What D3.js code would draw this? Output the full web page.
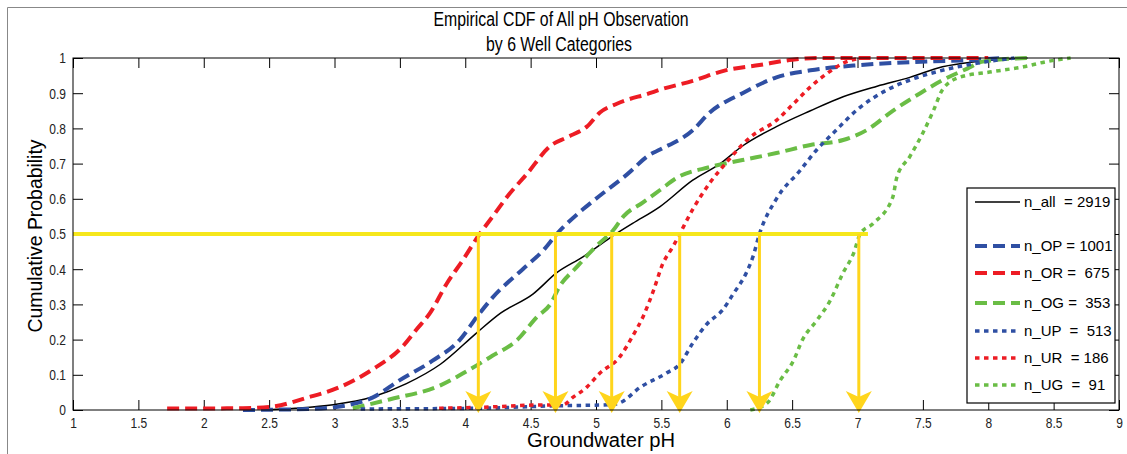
<!DOCTYPE html>
<html>
<head>
<meta charset="utf-8">
<script src="https://cdn.jsdelivr.net/npm/d3@7"></script>
<style>
  body { margin: 0; background: #fff; }
  text { font-family: "Liberation Sans", Arial, sans-serif; }
</style>
</head>
<body>
<div id="chart"></div>
<script>
// ---- data (pH, cumulative probability) ----
var nAll = [[2.45,0],[2.7,0.005],[2.99,0.015],[3.29,0.037],[3.55,0.075],[3.81,0.13],[4.09,0.22],[4.27,0.275],[4.52,0.33],[4.7,0.39],[4.9,0.435],[5.11,0.49],[5.28,0.53],[5.49,0.578],[5.74,0.653],[5.95,0.7],[6.12,0.75],[6.38,0.805],[6.64,0.85],[6.89,0.89],[7.15,0.92],[7.4,0.945],[7.65,0.975],[7.91,0.99],[8.3,1]];
var nOP = [[2.3,0],[2.8,0.003],[3.04,0.01],[3.29,0.035],[3.5,0.085],[3.75,0.14],[3.96,0.2],[4.09,0.265],[4.21,0.32],[4.44,0.4],[4.6,0.455],[4.7,0.5],[4.9,0.57],[5.05,0.615],[5.24,0.67],[5.41,0.725],[5.49,0.74],[5.74,0.795],[5.87,0.845],[6.12,0.9],[6.38,0.945],[6.64,0.965],[7.02,0.98],[7.53,0.99],[7.91,0.995],[8.1,1]];
var nOR = [[1.72,0.004],[2.3,0.005],[2.53,0.01],[2.79,0.035],[3.04,0.065],[3.29,0.115],[3.52,0.18],[3.63,0.23],[3.73,0.275],[3.86,0.36],[3.98,0.425],[4.11,0.5],[4.21,0.55],[4.34,0.615],[4.47,0.67],[4.65,0.75],[4.78,0.775],[4.93,0.805],[5.03,0.845],[5.16,0.87],[5.41,0.9],[5.49,0.91],[5.74,0.935],[5.99,0.965],[6.25,0.98],[6.5,0.995],[6.7,1],[8.0,1]];
var nOG = [[3.14,0.005],[3.42,0.03],[3.81,0.07],[4.01,0.11],[4.19,0.15],[4.4,0.2],[4.55,0.265],[4.65,0.3],[4.72,0.35],[4.85,0.405],[5.0,0.465],[5.13,0.51],[5.21,0.55],[5.36,0.59],[5.49,0.625],[5.62,0.66],[5.87,0.69],[6.12,0.71],[6.38,0.73],[6.64,0.753],[6.89,0.767],[7.07,0.795],[7.27,0.85],[7.48,0.9],[7.65,0.937],[7.84,0.97],[7.96,0.99],[8.3,1]];
var nUP = [[3.2,0.003],[4.1,0.005],[4.7,0.012],[5.1,0.015],[5.18,0.02],[5.34,0.065],[5.54,0.105],[5.64,0.13],[5.74,0.19],[5.85,0.245],[5.97,0.285],[6.05,0.33],[6.15,0.39],[6.2,0.435],[6.25,0.5],[6.38,0.6],[6.56,0.68],[6.69,0.74],[6.81,0.785],[7.02,0.86],[7.23,0.91],[7.42,0.94],[7.65,0.965],[7.91,0.985],[8.2,1]];
var nUR = [[3.8,0.005],[4.15,0.008],[4.52,0.014],[4.75,0.015],[4.82,0.035],[4.93,0.065],[5.03,0.105],[5.18,0.15],[5.28,0.21],[5.36,0.265],[5.44,0.34],[5.51,0.415],[5.59,0.465],[5.64,0.5],[5.74,0.57],[5.87,0.645],[5.99,0.7],[6.18,0.775],[6.38,0.823],[6.51,0.87],[6.64,0.918],[6.77,0.957],[6.89,0.985],[7.02,1]];
var nUG = [[6.18,0],[6.31,0.02],[6.41,0.085],[6.51,0.14],[6.58,0.2],[6.69,0.255],[6.79,0.31],[6.89,0.39],[6.97,0.445],[7.02,0.5],[7.12,0.53],[7.27,0.605],[7.3,0.66],[7.4,0.72],[7.5,0.787],[7.58,0.85],[7.65,0.91],[7.78,0.945],[8.01,0.96],[8.27,0.975],[8.45,0.99],[8.63,1]];

var medians = [4.1, 4.69, 5.12, 5.64, 6.25, 7.01];
var legendLabels = ["n_all  = 2919", "n_OP = 1001", "n_OR =  675", "n_OG =  353", "n_UP  =  513", "n_UR  = 186", "n_UG  =  91"];
var xTicks = d3.range(1, 9.01, 0.5);
var yTicks = d3.range(0, 1.001, 0.1);

var blue = "#2f4fa3", red = "#ed1c24", green = "#6abd45";
var series = [
  { pts: nAll, color: "#000", width: 1.5, dash: null },
  { pts: nOP, color: blue, width: 4, dash: "12,6" },
  { pts: nOR, color: red, width: 4, dash: "12,6" },
  { pts: nOG, color: green, width: 4, dash: "12,6" },
  { pts: nUP, color: blue, width: 3.5, dash: "4.5,4.5" },
  { pts: nUR, color: red, width: 3.5, dash: "4.5,4.5" },
  { pts: nUG, color: green, width: 3.5, dash: "4.5,4.5" }
];

var W = 1127, H = 454;
var margin = { left: 73, right: 8, top: 58, bottom: 44 };
var width = W - margin.left - margin.right,
    height = H - margin.top - margin.bottom;
var squeeze = 0.8; // the original lettering is narrow

var svg = d3.select("#chart").append("svg")
    .attr("width", W)
    .attr("height", H);

// figure frame
svg.append("path")
    .attr("d", "M7.5," + H + "V7.5H" + W)
    .attr("fill", "none")
    .attr("stroke", "#888")
    .attr("stroke-width", 1);

var g = svg.append("g")
    .attr("transform", "translate(" + margin.left + "," + margin.top + ")");

var x = d3.scaleLinear().domain([1, 9]).range([0, width]);
var y = d3.scaleLinear().domain([0, 1]).range([height, 0]);

// axes, MATLAB style ticks pointing inward
var fmt = function(d) { return d3.format("~g")(+d.toFixed(2)); };
g.append("g")
    .attr("transform", "translate(0," + height + ")")
    .call(d3.axisBottom(x).tickValues(xTicks).tickSize(-10).tickPadding(7).tickFormat(fmt))
    .call(function(a) {
      a.select(".domain").remove();
      a.selectAll("text").attr("font-size", 15).attr("fill", "#222")
        .attr("transform", "scale(" + squeeze + ",1)");
    });
g.append("g")
    .call(d3.axisTop(x).tickValues(xTicks).tickSize(-10).tickFormat(""))
    .call(function(a) { a.select(".domain").remove(); });
g.append("g")
    .call(d3.axisLeft(y).tickValues(yTicks).tickSize(-10).tickFormat(fmt))
    .call(function(a) {
      a.select(".domain").remove();
      a.selectAll("text").attr("font-size", 15).attr("fill", "#222")
        .attr("x", -7 / squeeze)
        .attr("transform", "scale(" + squeeze + ",1)");
    });
g.append("g")
    .attr("transform", "translate(" + width + ",0)")
    .call(d3.axisRight(y).tickValues(yTicks).tickSize(-10).tickFormat(""))
    .call(function(a) { a.select(".domain").remove(); });

var line = d3.line()
    .x(function(d) { return x(d[0]); })
    .y(function(d) { return y(d[1]); })
    .curve(d3.curveMonotoneX);

series.forEach(function(s) {
  g.append("path")
      .datum(s.pts)
      .attr("fill", "none")
      .attr("stroke", s.color)
      .attr("stroke-width", s.width)
      .attr("stroke-dasharray", s.dash)
      .attr("d", line);
});

// yellow median line and arrows
g.append("line")
    .attr("x1", x(1)).attr("x2", x(7.08))
    .attr("y1", y(0.5)).attr("y2", y(0.5))
    .attr("stroke", "#f6e71c")
    .attr("stroke-width", 4);

var arrows = g.selectAll(".arrow").data(medians).enter().append("g")
    .attr("class", "arrow")
    .attr("transform", function(d) { return "translate(" + x(d) + ",0)"; });
arrows.append("line")
    .attr("y1", y(0.5)).attr("y2", y(0) - 8)
    .attr("stroke", "#ffd51c")
    .attr("stroke-width", 3);
arrows.append("path")
    .attr("d", "M0," + (y(0) + 3) + "L-13," + (y(0) - 19) + "L0," + (y(0) - 13) + "L13," + (y(0) - 19) + "Z")
    .attr("fill", "#ffd51c");

// plot box
g.append("rect")
    .attr("width", width).attr("height", height)
    .attr("fill", "none")
    .attr("stroke", "#000")
    .attr("stroke-width", 1);

// legend
var lg = svg.append("g").attr("transform", "translate(967,188)");
lg.append("rect")
    .attr("width", 148).attr("height", 215)
    .attr("fill", "#fff")
    .attr("stroke", "#000")
    .attr("stroke-width", 1.2);
var rowsY = [14, 58, 85, 115, 143, 170, 197];
var items = lg.selectAll(".item").data(series).enter().append("g")
    .attr("transform", function(d, i) { return "translate(0," + rowsY[i] + ")"; });
items.append("line")
    .attr("x1", 8).attr("x2", 53)
    .attr("stroke", function(d) { return d.color; })
    .attr("stroke-width", function(d) { return d.width; })
    .attr("stroke-dasharray", function(d) { return d.dash; });
items.append("text")
    .attr("x", 57)
    .attr("dy", "0.35em")
    .attr("font-size", 15)
    .style("white-space", "pre")
    .text(function(d, i) { return legendLabels[i]; });

// titles
function label(txt, px, py, len, rot) {
  svg.append("text")
      .attr("transform", "translate(" + px + "," + py + ")" + (rot ? " rotate(-90)" : ""))
      .attr("text-anchor", "middle").attr("font-size", 20)
      .attr("textLength", len).attr("lengthAdjust", "spacingAndGlyphs")
      .text(txt);
}
label("Empirical CDF of All pH Observation", 561, 26, 255);
label("by 6 Well Categories", 559, 51, 146);
label("Groundwater pH", 601, 447, 148);
label("Cumulative Probability", 42, 236, 193, true);
</script>
</body>
</html>
